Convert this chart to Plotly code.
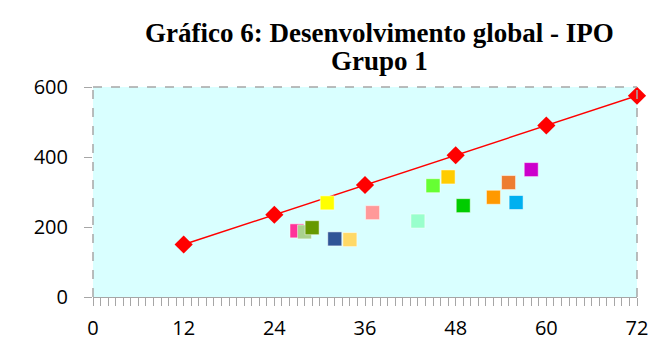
import plotly.graph_objects as go

# Reference line (IPO)
ref_months = [12, 24, 36, 48, 60, 72]
ref_values = [150, 235, 320, 405, 490, 575]

# Individual points (Grupo 1)
pt_months = [27, 28, 29, 31, 32, 34, 37, 43, 45, 47, 49, 53, 55, 56, 58]
pt_values = [189, 186, 198, 269, 166, 164, 241, 217, 318, 343, 261, 285, 327, 270, 364]
pt_colors = ["#ff3399", "#a9d18e", "#669900", "#ffff00", "#2f5597", "#ffd966",
             "#ff9999", "#99ffcc", "#66ff33", "#ffcc00", "#00cc00", "#ff9900",
             "#ed7d31", "#00b0f0", "#cc00cc"]

x_ticks = [0, 12, 24, 36, 48, 60, 72]
y_ticks = [0, 200, 400, 600]
title_lines = ["Gráfico 6: Desenvolvimento global - IPO", "Grupo 1"]

fig = go.Figure()
fig.add_trace(go.Scatter(
    x=ref_months, y=ref_values, mode="lines+markers",
    line=dict(color="#ff0000", width=1.5),
    marker=dict(symbol="diamond", size=14, color="#ff0000"),
    showlegend=False, cliponaxis=False))
for m, v, c in zip(pt_months, pt_values, pt_colors):
    fig.add_trace(go.Scatter(
        x=[m], y=[v], mode="markers",
        marker=dict(symbol="square", size=14, color=c,
                    line=dict(color="rgba(255,255,255,0.5)", width=1)),
        showlegend=False))

grey = "#a6a6a6"
fig.update_layout(
    width=650, height=343,
    margin=dict(l=93, r=13, t=87, b=46, autoexpand=False),
    paper_bgcolor="white", plot_bgcolor="#d9ffff",
    xaxis=dict(range=[0, 72], tickvals=x_ticks, ticktext=[str(t) for t in x_ticks],
               showgrid=False, zeroline=False, showline=True, linecolor=grey,
               linewidth=1, ticks="outside", ticklen=8, tickcolor=grey,
               ticklabelstandoff=5,
               minor=dict(dtick=1, ticks="outside", ticklen=8, tickcolor=grey, showgrid=False),
               tickfont=dict(family="Open Sans", size=20, color="black")),
    yaxis=dict(range=[0, 600], tickvals=y_ticks, showgrid=False, zeroline=False,
               showline=False, ticks="outside", ticklen=8, tickcolor=grey,
               ticklabelstandoff=12,
               tickfont=dict(family="Open Sans", size=20, color="black")),
    shapes=[
        dict(type="line", xref="x domain", yref="y domain", x0=0, x1=1, y0=1, y1=1,
             line=dict(color=grey, width=1.5, dash="dash")),
        dict(type="line", xref="x domain", yref="y domain", x0=1, x1=1, y0=0, y1=1,
             line=dict(color=grey, width=1.5, dash="dash")),
        dict(type="line", xref="x domain", yref="y domain", x0=0, x1=0, y0=0, y1=1,
             line=dict(color=grey, width=1.5, dash="dash")),
    ],
    annotations=[
        dict(text="<b>%s</b>" % title_lines[0], xref="paper", yref="paper",
             x=0.527, y=1.255, xanchor="center", yanchor="middle", showarrow=False,
             font=dict(family="Liberation Serif", size=27, color="black")),
        dict(text="<b>%s</b>" % title_lines[1], xref="paper", yref="paper",
             x=0.527, y=1.124, xanchor="center", yanchor="middle", showarrow=False,
             font=dict(family="Liberation Serif", size=27, color="black")),
    ],
)
fig.write_html("out.html",
               config={"displayModeBar": False},
               post_script="document.body.style.margin='0';document.body.style.overflow='hidden';")
